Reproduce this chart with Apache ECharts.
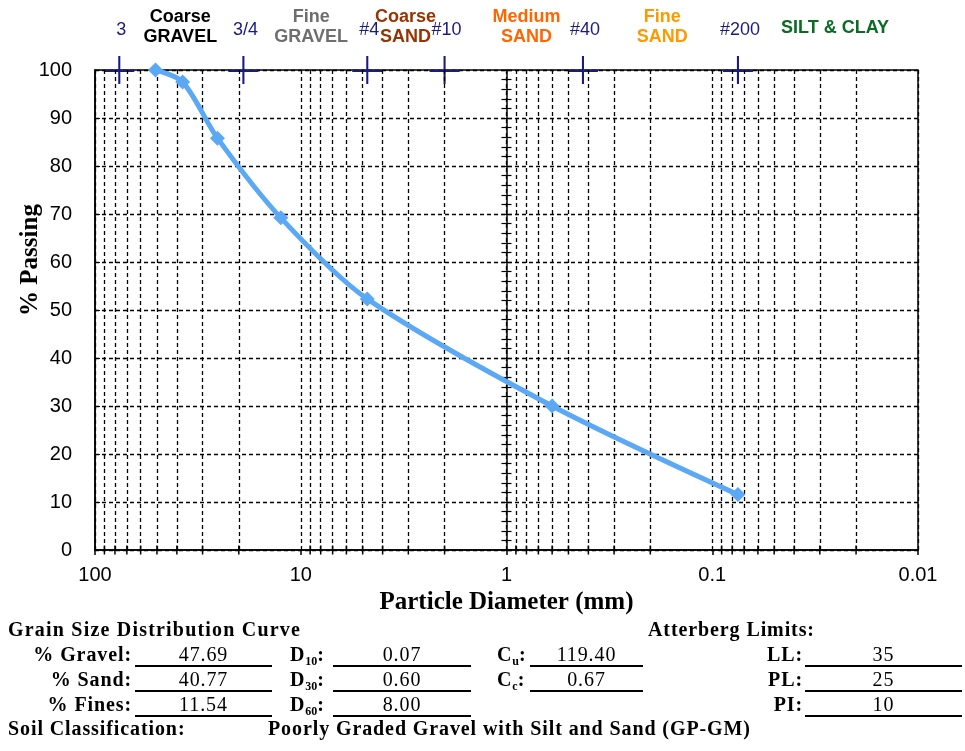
<!DOCTYPE html>
<html>
<head>
<meta charset="utf-8">
<title>Grain Size Distribution Curve</title>
<script src="https://cdn.jsdelivr.net/npm/echarts@6/dist/echarts.min.js"></script>
<style>
  html, body { margin: 0; padding: 0; background: #fff; }
  #chart { position: absolute; left: 0; top: 0; width: 965px; height: 751px; }
  .t { position: absolute; font-family: "Liberation Serif", "Times New Roman", serif; font-size: 20px;
       letter-spacing: 0.9px; color: #000; white-space: nowrap; line-height: 22px; height: 22px; }
  .b { font-weight: bold; }
  .r { text-align: right; }
  .v { text-align: center; border-bottom: 2px solid #000; }
  .wide { letter-spacing: 1.2px; }
  sub { font-size: 12px; vertical-align: -4px; line-height: 0; letter-spacing: 0; }
</style>
</head>
<body>
<div id="chart"></div>
<div id="summary"></div>
<script>
// Sieve analysis results: particle diameter (mm) and percent passing
const sieveSizes = [50.8, 37.5, 25.4, 12.5, 4.75, 0.6, 0.075];
const percentPassing = [100, 97.5, 85.8, 69.2, 52.31, 30.0, 11.54];

// Reference sieves marked along the top edge
const sieveMarkNames = ['3', '3/4', '#4', '#10', '#40', '#200'];
const sieveMarkSizes = [76.2, 19.0, 4.75, 2.0, 0.425, 0.075];

// Soil fraction names written above the plot
const zoneNames = ['Coarse\nGRAVEL', 'Fine\nGRAVEL', 'Coarse\nSAND', 'Medium\nSAND', 'Fine\nSAND', 'SILT & CLAY'];
const zoneCenters = [38.5, 8.9, 3.1, 0.8, 0.175, 0.0253];
const zoneColors = ['#000000', '#6e6e6e', '#993300', '#ff6600', '#ff9900', '#0b6b23'];

// Summary table
const gradationLabels = ['% Gravel:', '% Sand:', '% Fines:'];
const gradationValues = ['47.69', '40.77', '11.54'];
const diameterSubs = ['10', '30', '60'];
const diameterValues = ['0.07', '0.60', '8.00'];
const coeffSubs = ['u', 'c'];
const coeffValues = ['119.40', '0.67'];
const limitLabels = ['LL:', 'PL:', 'PI:'];
const limitValues = ['35', '25', '10'];
const soilClass = 'Poorly Graded Gravel with Silt and Sand (GP-GM)';

// Log-cycle subdivisions (2..9 of each decade) for the vertical grid
const minorGrid = [];
for (let e = -2; e < 2; e++) {
  for (let m = 2; m <= 9; m++) minorGrid.push(+(m * Math.pow(10, e)).toPrecision(3));
}

const SANS = '"Liberation Sans", Arial, sans-serif';
const SERIF = '"Liberation Serif", "Times New Roman", serif';
const dash = { color: '#000', width: 1.3, type: [4, 3] };
const NAVY = '#1a1a85';

const GRID = { left: 95, right: 47, top: 70, bottom: 201 };
const plotW = 965 - GRID.left - GRID.right;

const chart = echarts.init(document.getElementById('chart'), null, { renderer: 'canvas' });

const yCommon = { type: 'value', min: 0, max: 100, interval: 10 };

chart.setOption({
  animation: false,
  backgroundColor: '#fff',
  grid: Object.assign({
    show: true, borderColor: '#000', borderWidth: 1.5, backgroundColor: '#fff',
    containLabel: false, outerBoundsMode: 'none'
  }, GRID),
  xAxis: {
    type: 'log', logBase: 10, min: 0.01, max: 100, inverse: true,
    name: 'Particle Diameter (mm)', nameLocation: 'middle', nameGap: 36,
    nameTextStyle: { fontFamily: SERIF, fontWeight: 'bold', fontSize: 25, color: '#000' },
    axisLine: { show: true, lineStyle: { color: '#000', width: 1.5 } },
    axisTick: { show: true, length: 5, lineStyle: { color: '#000', width: 1.5 } },
    axisLabel: { fontFamily: SANS, fontSize: 20, color: '#000', margin: 15,
      formatter: v => String(+v.toPrecision(3)) },
    splitLine: { show: true, lineStyle: dash }
  },
  yAxis: [
    Object.assign({}, yCommon, {
      name: '% Passing', nameLocation: 'middle', nameGap: 52, nameRotate: 90, nameMoveOverlap: false,
      nameTextStyle: { fontFamily: SERIF, fontWeight: 'bold', fontSize: 25, color: '#000', padding: [0, 0, 0, 100] },
      axisLine: { show: true, lineStyle: { color: '#000', width: 1.5 } },
      axisTick: { show: true, inside: true, length: 5, lineStyle: { color: '#000' } },
      axisLabel: { fontFamily: SANS, fontSize: 20, color: '#000', margin: 23 },
      splitLine: { show: true, lineStyle: dash }
    }),
    // secondary vertical axis crossing at 1 mm, ticks outward
    Object.assign({}, yCommon, {
      position: 'left', offset: -plotW / 2,
      axisLine: { show: true, lineStyle: { color: '#000', width: 1.5 } },
      axisTick: { show: true, length: 5, lineStyle: { color: '#000', width: 1.2 } },
      minorTick: { show: true, splitNumber: 5, length: 5, lineStyle: { color: '#000', width: 1.2 } },
      axisLabel: { show: false }, splitLine: { show: false }
    }),
    // same axis, ticks inward
    Object.assign({}, yCommon, {
      position: 'left', offset: -plotW / 2,
      axisLine: { show: false },
      axisTick: { show: true, inside: true, length: 5, lineStyle: { color: '#000', width: 1.2 } },
      minorTick: { show: true, splitNumber: 5, length: 5, lineStyle: { color: '#000', width: 1.2 } },
      axisLabel: { show: false }, splitLine: { show: false }
    })
  ],
  series: [
    {
      // minor log grid lines and their ticks on the bottom axis
      type: 'scatter', z: 1, silent: true, clip: false,
      data: minorGrid.map(v => [v, 0]),
      symbol: 'rect', symbolSize: [1.5, 9],
      itemStyle: { color: '#000', opacity: 1 },
      markLine: {
        silent: true, symbol: 'none', label: { show: false },
        lineStyle: dash,
        data: minorGrid.map(v => ({ xAxis: v }))
      }
    },
    {
      // sieve reference marks along the top
      type: 'scatter', z: 3, silent: true, clip: false,
      data: sieveMarkSizes.map((s, i) => ({ value: [s, 100], name: sieveMarkNames[i] })),
      symbol: 'path://M0,15 H30 M15,0 V28', symbolSize: [30, 28], symbolKeepAspect: false,
      itemStyle: { color: 'rgba(0,0,0,0)', borderColor: NAVY, borderWidth: 2, opacity: 1 },
      label: {
        show: true, position: 'top', distance: 16, offset: [2, 0],
        formatter: p => p.name,
        fontFamily: SANS, fontSize: 18, color: NAVY
      }
    },
    {
      // soil fraction names
      type: 'scatter', z: 3, silent: true, clip: false,
      data: zoneNames.map((n, i) => ({
        value: [zoneCenters[i], 100], name: n,
        label: { color: zoneColors[i], distance: n.indexOf('\n') >= 0 ? 22 : 31 }
      })),
      symbolSize: 1, itemStyle: { color: 'rgba(0,0,0,0)', opacity: 1 },
      label: {
        show: true, position: 'top', formatter: p => p.name,
        fontFamily: SANS, fontSize: 18, fontWeight: 'bold', lineHeight: 20, align: 'center'
      }
    },
    {
      // gradation curve
      type: 'line', z: 5, clip: false, smooth: 0.3,
      data: sieveSizes.map((s, i) => [s, percentPassing[i]]),
      lineStyle: { color: '#5ba8f5', width: 5 },
      symbol: 'diamond', symbolSize: 15,
      itemStyle: { color: '#5ba8f5' }
    }
  ]
});

// Summary table under the plot
const box = document.getElementById('summary');
function put(html, cls, left, top, width) {
  const d = document.createElement('div');
  d.className = 't ' + cls;
  d.style.left = left + 'px';
  d.style.top = top + 'px';
  if (width) d.style.width = width + 'px';
  d.innerHTML = html;
  box.appendChild(d);
}
const rowTop = [643, 668, 693];
put('Grain Size Distribution Curve', 'b wide', 8, 618);
put('Atterberg Limits:', 'b', 648, 618);
gradationLabels.forEach((l, i) => {
  put(l, 'b r', 0, rowTop[i], 132);
  put(gradationValues[i], 'v', 135, rowTop[i], 137);
});
diameterSubs.forEach((s, i) => {
  put('D<sub>' + s + '</sub>:', 'b', 290, rowTop[i]);
  put(diameterValues[i], 'v', 333, rowTop[i], 138);
});
coeffSubs.forEach((s, i) => {
  put('C<sub>' + s + '</sub>:', 'b', 497, rowTop[i]);
  put(coeffValues[i], 'v', 530, rowTop[i], 113);
});
limitLabels.forEach((l, i) => {
  put(l, 'b r', 700, rowTop[i], 103);
  put(limitValues[i], 'v', 805, rowTop[i], 157);
});
put('Soil Classification:', 'b', 8, 717);
put(soilClass, 'b', 268, 717);
</script>
</body>
</html>
